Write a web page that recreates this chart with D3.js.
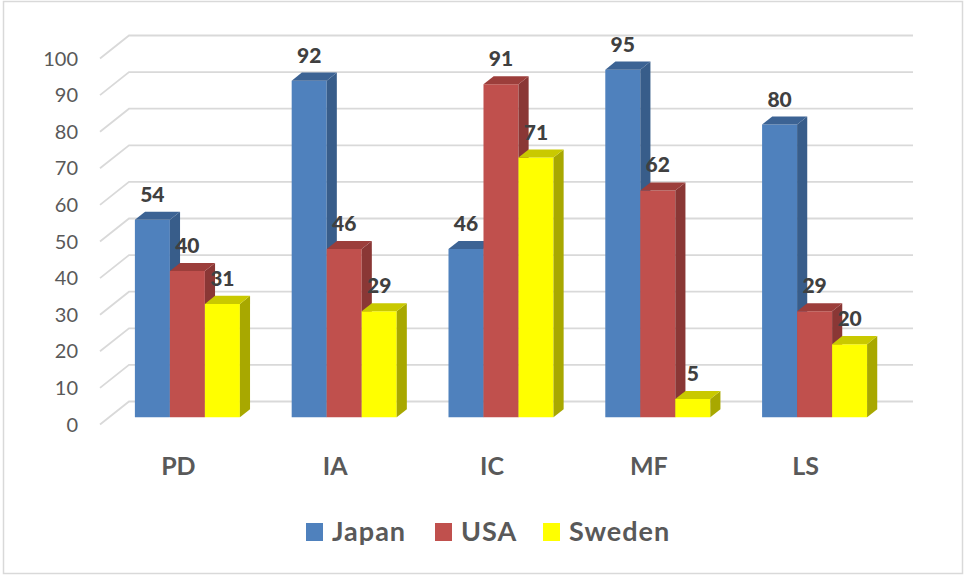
<!DOCTYPE html>
<html>
<head>
<meta charset="utf-8">
<script src="https://cdn.jsdelivr.net/npm/d3@7"></script>
<style>
  html, body { margin: 0; padding: 0; background: #fff; }
  svg { display: block; font-family: Lato, "Open Sans", sans-serif; }
</style>
</head>
<body>
<svg id="chart" width="965" height="575"></svg>
<script>
// Scores per dimension for each country
const categories = ["PD", "IA", "IC", "MF", "LS"];
const seriesNames = ["Japan", "USA", "Sweden"];
const japan  = [54, 92, 46, 95, 80];
const usa    = [40, 46, 91, 62, 29];
const sweden = [31, 29, 71, 5, 20];
const yTicks = [0, 10, 20, 30, 40, 50, 60, 70, 80, 90, 100];

const seriesValues = [japan, usa, sweden];
const palette = {
  Japan:  { front: "#4F81BD", side: "#385D8A", top: "#3C6394" },
  USA:    { front: "#C0504D", side: "#8A3735", top: "#9C3E3B" },
  Sweden: { front: "#FFFF00", side: "#A8A800", top: "#C9C900" }
};

const svg = d3.select("#chart");

// Oblique projection of the 3-D plot box
const frontLeft = 100, frontRight = 884, baseY = 424.5;
const depthDX = 29, depthDY = -23;
const barFront = 0.31, barBack = 0.66;

const x = d3.scaleBand().domain(categories).range([frontLeft, frontRight]).paddingInner(0).paddingOuter(0);
const xs = d3.scaleBand().domain(seriesNames).range([0, x.bandwidth()]).paddingInner(0).paddingOuter(0.74);
const y = d3.scaleLinear().domain([0, 100]).range([0, 366]);

// screen point for front-plane x, value v and depth fraction f
const P = (px, v, f) => [px + f * depthDX, baseY - y(v) + f * depthDY];

// outer frame
svg.append("rect")
  .attr("x", 3.5).attr("y", 1.5).attr("width", 959).attr("height", 572)
  .attr("fill", "none").attr("stroke", "#D9D9D9").attr("stroke-width", 1.5);

// gridlines: side-wall diagonal plus back-wall horizontal
const grid = svg.append("g");
yTicks.forEach(t => {
  const a = P(frontLeft, t, 0), b = P(frontLeft, t, 1), c = P(frontRight, t, 1);
  grid.append("polyline")
    .attr("points", [a, b, c].map(p => p.join(",")).join(" "))
    .attr("fill", "none").attr("stroke", "#D9D9D9").attr("stroke-width", 1.8);
});

// value axis labels
svg.append("g").selectAll("text").data(yTicks).join("text")
  .attr("x", 78)
  .attr("y", d => P(frontLeft, d, 0)[1] + 7)
  .attr("text-anchor", "end")
  .attr("fill", "#595959")
  .attr("font-size", 20)
  .text(d => d);

// bars (left to right so later faces overlap earlier side faces)
const bars = svg.append("g");
const labels = [];
categories.forEach((cat, ci) => {
  seriesNames.forEach((s, si) => {
    const v = seriesValues[si][ci];
    const x0 = x(cat) + xs(s), x1 = x0 + xs.bandwidth();
    const col = palette[s];
    const poly = pts => pts.map(p => p.join(",")).join(" ");
    // front face
    bars.append("polygon")
      .attr("points", poly([P(x0, 0, barFront), P(x1, 0, barFront), P(x1, v, barFront), P(x0, v, barFront)]))
      .attr("fill", col.front);
    // right side face
    bars.append("polygon")
      .attr("points", poly([P(x1, 0, barFront), P(x1, 0, barBack), P(x1, v, barBack), P(x1, v, barFront)]))
      .attr("fill", col.side);
    // top face
    bars.append("polygon")
      .attr("points", poly([P(x0, v, barFront), P(x1, v, barFront), P(x1, v, barBack), P(x0, v, barBack)]))
      .attr("fill", col.top);
    const top = P((x0 + x1) / 2, v, barFront);
    labels.push({ x: top[0], y: top[1] - 18, v });
  });
});

// data labels
svg.append("g").selectAll("text").data(labels).join("text")
  .attr("x", d => d.x)
  .attr("y", d => d.y)
  .attr("text-anchor", "middle")
  .attr("font-weight", 900)
  .attr("font-size", 21)
  .attr("fill", "#404040")
  .text(d => d.v);

// category labels
svg.append("g").selectAll("text").data(categories).join("text")
  .attr("x", d => x(d) + x.bandwidth() / 2)
  .attr("y", 475)
  .attr("text-anchor", "middle")
  .attr("font-weight", "bold")
  .attr("font-size", 25)
  .attr("fill", "#595959")
  .text(d => d);

// legend
const legendX = [306, 435, 543];
const legend = svg.append("g").selectAll("g").data(seriesNames).join("g")
  .attr("transform", (d, i) => `translate(${legendX[i]},523)`);
legend.append("rect")
  .attr("width", 17).attr("height", 18)
  .attr("fill", d => palette[d].front);
legend.append("text")
  .attr("x", 26).attr("y", 18)
  .attr("font-weight", "bold")
  .attr("font-size", 27)
  .attr("letter-spacing", 1)
  .attr("fill", "#595959")
  .text(d => d);
</script>
</body>
</html>
